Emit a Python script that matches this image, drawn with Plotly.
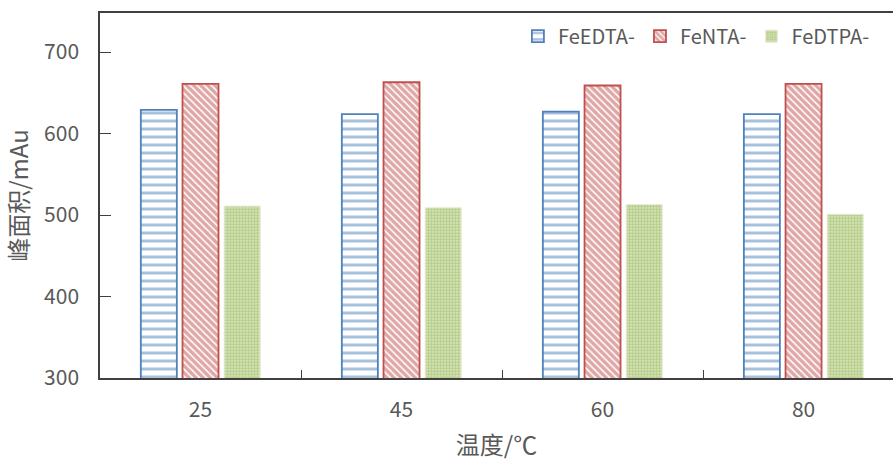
import plotly.graph_objects as go

# Peak area of each iron complex at each temperature
temperatures = ["25", "45", "60", "80"]
fe_edta = [629, 624, 627, 624]
fe_nta = [661, 663, 659, 661]
fe_dtpa = [511, 509, 513, 501]

y_ticks = [300, 400, 500, 600, 700]

font_family = "Noto Sans CJK SC, Noto Sans, sans-serif"
text_grey = "#595959"
axis_color = "#404040"

fig = go.Figure()

fig.add_trace(go.Bar(
    name="FeEDTA-", x=temperatures, y=fe_edta,
    marker=dict(
        color="white",
        line=dict(color="#4F81BD", width=1.8),
        pattern=dict(shape="-", fgcolor="#4F81BD", bgcolor="white",
                     size=8, solidity=0.38, fillmode="overlay"),
    ),
))
fig.add_trace(go.Bar(
    name="FeNTA-", x=temperatures, y=fe_nta,
    marker=dict(
        color="white",
        line=dict(color="#C0504D", width=1.8),
        pattern=dict(shape="\\", fgcolor="#C0504D", bgcolor="white",
                     size=5, solidity=0.7, fillmode="overlay"),
    ),
))
fig.add_trace(go.Bar(
    name="FeDTPA-", x=temperatures, y=fe_dtpa,
    marker=dict(
        color="#C9DBA3",
        line=dict(color="#E6EDD6", width=1),
        pattern=dict(shape=".", fgcolor="#8DB04A", bgcolor="#E2ECCD",
                     size=3, solidity=0.7, fillmode="overlay"),
    ),
))

fig.update_layout(
    width=893, height=461,
    margin=dict(l=100, r=0, t=13, b=83),
    paper_bgcolor="white", plot_bgcolor="white",
    barmode="group", bargap=0.378, bargroupgap=0.136,
    font=dict(family=font_family, size=20, color=text_grey),
    showlegend=True,
    legend=dict(
        orientation="h", x=0.527, xanchor="left", y=0.99, yanchor="top",
        font=dict(size=20, color=text_grey),
        bgcolor="rgba(0,0,0,0)", itemwidth=30,
    ),
)

fig.update_xaxes(
    type="category", range=[-0.5, 3.445],
    showline=True, linecolor=axis_color, linewidth=1.5, mirror=True,
    ticks="inside", tickson="boundaries", ticklen=8, tickwidth=1.3,
    tickcolor=axis_color, showgrid=False,
    tickfont=dict(size=21, color=text_grey), ticklabelstandoff=12,
    title=dict(text="温度/℃", font=dict(size=24, color=text_grey), standoff=16),
)
fig.update_yaxes(
    range=[300, 748], tickvals=y_ticks,
    showline=True, linecolor=axis_color, linewidth=1.5,
    ticks="inside", ticklen=11, tickwidth=1.3, tickcolor=axis_color,
    showgrid=False, zeroline=False,
    tickfont=dict(size=21, color=text_grey), ticklabelstandoff=15,
    title=dict(text="峰面积/mAu", font=dict(size=24, color=text_grey), standoff=12),
)

fig.write_html("out.html")
